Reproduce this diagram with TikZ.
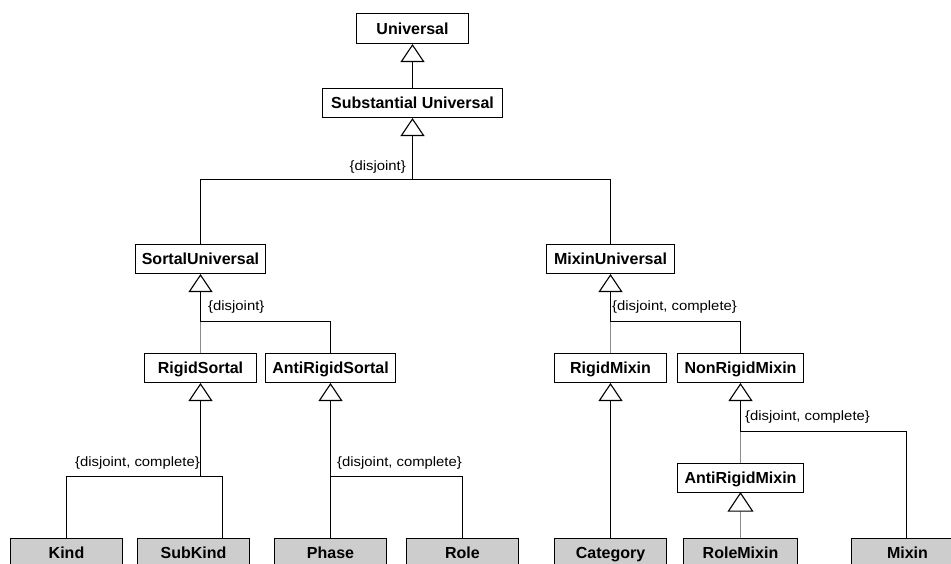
\documentclass[tikz,border=0pt]{standalone}
\usepackage{fontspec}
\setmainfont{Liberation Sans}
\usetikzlibrary{arrows.meta}
\definecolor{boxgray}{RGB}{205,205,205}
\definecolor{linegray}{RGB}{140,140,140}
\tikzset{
  cls/.style={draw=black, line width=1.1pt, fill=white, minimum height=29pt, inner sep=0pt,
    text height=11.5pt, text depth=0pt, font=\fontsize{16}{19}\selectfont\bfseries},
  leaf/.style={cls, fill=boxgray},
  gen/.style={line width=1.1pt, -{Triangle[open, width=24pt, length=18pt, line width=1.1pt]}},
  conn/.style={line width=1.1pt},
  gconn/.style={line width=1.1pt, draw=linegray},
  lbl/.style={font=\fontsize{13.5}{16}\selectfont, inner sep=0pt, xscale=1.1, transform shape}
}
\begin{document}
\begin{tikzpicture}[x=1pt, y=-1pt]
\useasboundingbox (0,0) rectangle (951,564);
\clip (0,0) rectangle (951,564);
% classes
\node[cls, minimum width=112pt, minimum height=30pt] (uni) at (412.5,28.5) {Universal};
\node[cls, minimum width=180pt] (sub) at (412.5,103) {Substantial Universal};
\node[cls, minimum width=130pt] (sortal) at (200.5,259) {SortalUniversal};
\node[cls, minimum width=128pt] (mixu) at (610.5,259) {MixinUniversal};
\node[cls, minimum width=112pt] (rigs) at (200.5,368) {RigidSortal};
\node[cls, minimum width=130pt] (antis) at (330.5,368) {AntiRigidSortal};
\node[cls, minimum width=112pt] (rigm) at (610.5,368) {RigidMixin};
\node[cls, minimum width=126pt] (nonrm) at (740.5,368) {NonRigidMixin};
\node[cls, minimum width=126pt] (antirm) at (740.5,478) {AntiRigidMixin};
% leaves
\node[leaf, minimum width=112pt] (kind) at (66.5,553) {Kind};
\node[leaf, minimum width=112pt] (subkind) at (193.5,553) {SubKind};
\node[leaf, minimum width=112pt] (phase) at (330.5,553) {Phase};
\node[leaf, minimum width=112pt] (role) at (462.5,553) {Role};
\node[leaf, minimum width=112pt] (cat) at (610.5,553) {Category};
\node[leaf, minimum width=114pt] (rolemix) at (740.5,553) {RoleMixin};
\node[leaf, minimum width=112pt] (mixin) at (907.5,553) {Mixin};
% junction points
\coordinate (j1) at (412.5,179.5);
\coordinate (j2) at (200.5,321.5);
\coordinate (j3) at (610.5,321.5);
\coordinate (j4) at (200.5,476.5);
\coordinate (j5) at (330.5,476.5);
\coordinate (j6) at (740.5,431.5);
\coordinate (skp) at (222.5,538.5);
\coordinate (mxp) at (906.5,538.5);
% generalizations
\draw[gen] (sub.north) -- (uni.south);
\draw[gen] (j1) -- (sub.south);
\draw[conn] (sortal.north) |- (j1) -| (mixu.north);
\node[lbl, anchor=south east] (l1) at (406,174) {\{disjoint\}};

\draw[gen] (j2) -- (sortal.south);
\draw[conn] (j2) -| (antis.north);
\draw[gconn] (j2) -- (rigs.north);
\node[lbl, anchor=south west] (l2) at (208,314) {\{disjoint\}};

\draw[gen] (j3) -- (mixu.south);
\draw[conn] (j3) -| (nonrm.north);
\draw[gconn] (j3) -- (rigm.north);
\node[lbl, anchor=south west] (l3) at (612,314) {\{disjoint, complete\}};

\draw[gen] (j4) -- (rigs.south);
\draw[conn] (kind.north) |- (j4) -| (skp);
\node[lbl, anchor=south east] (l4) at (200,469) {\{disjoint, complete\}};

\draw[gen] (j5) -- (antis.south);
\draw[conn] (phase.north) |- (j5) -| (role.north);
\node[lbl, anchor=south west] (l5) at (337,469) {\{disjoint, complete\}};

\draw[gen] (cat.north) -- (rigm.south);

\draw[gen] (j6) -- (nonrm.south);
\draw[conn] (j6) -| (mxp);
\draw[gconn] (j6) -- (antirm.north);
\node[lbl, anchor=south west] (l6) at (745,424) {\{disjoint, complete\}};

\draw[gconn] (rolemix.north) -- (antirm.south);
\draw[line width=1.1pt, fill=white, line join=miter] (antirm.south) -- ++(-12,18) -- ++(24,0) -- cycle;
\end{tikzpicture}
\end{document}
